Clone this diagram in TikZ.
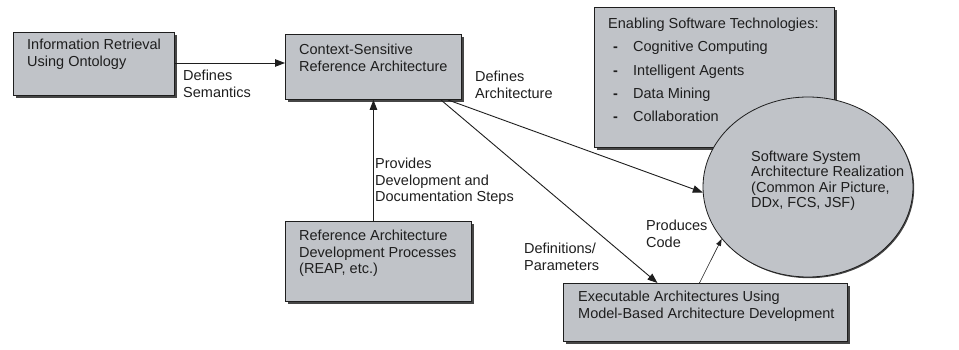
\documentclass[tikz,border=0pt]{standalone}
\usepackage{fontspec}
\setmainfont{Liberation Sans}
\usetikzlibrary{shapes.geometric,shadows,arrows.meta}
\definecolor{boxfill}{RGB}{192,195,200}
\definecolor{shade}{RGB}{70,70,70}
\definecolor{ink}{RGB}{30,30,30}

\begin{document}
\begin{tikzpicture}[x=1pt,y=-1pt,
  every node/.style={font=\fontsize{14.5}{16.5}\selectfont, text=ink},
  box/.style={draw=ink, line width=0.9pt, fill=boxfill, anchor=north west,
    inner sep=0pt, drop shadow={shadow xshift=2.2pt, shadow yshift=-2.2pt, fill=shade, opacity=1}},
  txt/.style={anchor=north west, inner sep=0pt, align=left},
  conn/.style={draw=ink, line width=0.9pt, -{Triangle[length=10pt,width=7.5pt]}},
  thinconn/.style={draw=ink, line width=0.6pt, -{Triangle[length=7pt,width=5pt]}}]
\useasboundingbox (0,0) rectangle (959,350);

% boxes
\node[box, minimum width=161, minimum height=63] (b1) at (13,32) {};
\node[txt] (t1) at (27,39) {Information Retrieval\\Using Ontology};

\node[box, minimum width=176, minimum height=65] (b2) at (285,34) {};
\node[txt] (t2) at (299,44) {Context-Sensitive\\Reference Architecture};

\node[box, minimum width=186, minimum height=80] (b3) at (285,221) {};
\node[txt] (t3) at (299,230) {Reference Architecture\\Development Processes\\(REAP, etc.)};

\node[box, minimum width=284, minimum height=58] (b4) at (563,283) {};
\node[txt] (t4) at (578,291) {Executable Architectures Using\\Model-Based Architecture Development};

\node[box, minimum width=240, minimum height=140] (b5) at (594,7) {};
\node[txt, font=\fontsize{14.5}{23.2}\selectfont] (t5) at (608,18) {Enabling Software Technologies:\\
  \hspace*{5pt}\makebox[20pt][l]{\textbf{-}}Cognitive Computing\\
  \hspace*{5pt}\makebox[20pt][l]{\textbf{-}}Intelligent Agents\\
  \hspace*{5pt}\makebox[20pt][l]{\textbf{-}}Data Mining\\
  \hspace*{5pt}\makebox[20pt][l]{\textbf{-}}Collaboration};

% realization ellipse
\node[ellipse, draw=ink, line width=0.8pt, fill=boxfill, minimum width=210, minimum height=180,
  inner sep=0pt, drop shadow={shadow xshift=1.2pt, shadow yshift=-1.2pt, fill=shade, opacity=1}] (ell) at (808,187) {};
\node[txt, font=\fontsize{14.5}{15.2}\selectfont] (t6) at (751,151) {Software System\\Architecture Realization\\(Common Air Picture,\\DDx, FCS, JSF)};

% connectors
\draw[conn] (b1.east |- 0,63) coordinate (s1) -- (s1 -| b2.west);
\draw[conn] (b3.north -| b2.south) -- (b2.south);
\draw[conn] ([xshift=-21pt]b2.south east) -- ([xshift=-48pt]b4.north);
\draw[conn] ([xshift=-14pt]b2.south east) -- (ell.183);
\draw[thinconn] ([xshift=-6pt]b4.north) -- (ell.211);

% connector labels
\node[txt] (l1) at (183,70) {Defines\\Semantics};
\node[txt] (l2) at (475,71) {Defines\\Architecture};
\node[txt] (l3) at (375,158) {Provides\\Development and\\Documentation Steps};
\node[txt] (l4) at (524,243) {Definitions/\\Parameters};
\node[txt] (l5) at (646,220) {Produces\\Code};
\end{tikzpicture}
\end{document}
